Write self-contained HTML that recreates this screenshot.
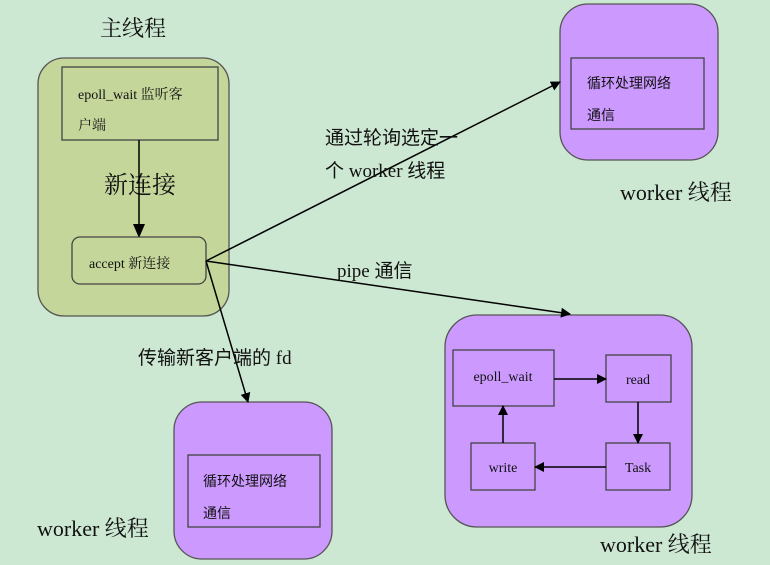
<!DOCTYPE html>
<html><head><meta charset="utf-8"><style>
html,body{margin:0;padding:0;background:#cde8d2;}
svg{display:block;}
text{font-family:"Liberation Serif","Noto Serif CJK SC","Noto Sans CJK SC",serif;fill:#111;}
.s{font-family:"Liberation Serif","Noto Sans CJK SC",sans-serif;}
</style></head><body>
<svg width="770" height="565" viewBox="0 0 770 565" xmlns="http://www.w3.org/2000/svg">
<defs><marker id="a" markerWidth="10" markerHeight="10" refX="9" refY="5" orient="auto" markerUnits="userSpaceOnUse"><path d="M0,0 L10,5 L0,10 z" fill="#000"/></marker>
<marker id="b" markerWidth="14" markerHeight="14" refX="13" refY="7" orient="auto" markerUnits="userSpaceOnUse"><path d="M0,1 L14,7 L0,13 z" fill="#000"/></marker></defs>
<rect width="770" height="565" fill="#cde8d2"/>
<text x="100" y="36" font-size="22">主线程</text>
<rect x="38" y="58" width="191" height="258" rx="26" fill="#c4d69a" stroke="#555" stroke-width="1.3"/>
<rect x="62" y="67" width="156" height="73" fill="#c4d69a" stroke="#444" stroke-width="1.3"/>
<text x="78" y="99" font-size="14">epoll_wait  监听客</text>
<text x="78" y="130" font-size="14">户端</text>
<text x="104" y="193" font-size="24" fill="#333">新连接</text>
<line x1="139" y1="140" x2="139" y2="237" stroke="#000" stroke-width="1.5" marker-end="url(#b)"/>
<rect x="72" y="237" width="134" height="47" rx="8" fill="#c4d69a" stroke="#444" stroke-width="1.3"/>
<text x="89" y="268" font-size="14">accept 新连接</text>

<rect x="560" y="4" width="158" height="156" rx="28" fill="#cc99ff" stroke="#555" stroke-width="1.3"/>
<rect x="571" y="58" width="133" height="71" fill="#cc99ff" stroke="#444" stroke-width="1.3"/>
<text x="587" y="88" font-size="14" class="s">循环处理网络</text>
<text x="587" y="120" font-size="14" class="s">通信</text>
<text x="620" y="200" font-size="22">worker 线程</text>

<rect x="174" y="402" width="158" height="157" rx="28" fill="#cc99ff" stroke="#555" stroke-width="1.3"/>
<rect x="188" y="455" width="132" height="72" fill="#cc99ff" stroke="#444" stroke-width="1.3"/>
<text x="203" y="486" font-size="14" class="s">循环处理网络</text>
<text x="203" y="518" font-size="14" class="s">通信</text>
<text x="37" y="536" font-size="22">worker 线程</text>

<rect x="445" y="315" width="247" height="212" rx="32" fill="#cc99ff" stroke="#555" stroke-width="1.3"/>
<rect x="453" y="350" width="101" height="56" fill="#cc99ff" stroke="#444" stroke-width="1.3"/>
<text x="503" y="381" font-size="14" text-anchor="middle">epoll_wait</text>
<rect x="606" y="355" width="65" height="47" fill="#cc99ff" stroke="#444" stroke-width="1.3"/>
<text x="638" y="384" font-size="14" text-anchor="middle">read</text>
<rect x="471" y="443" width="64" height="47" fill="#cc99ff" stroke="#444" stroke-width="1.3"/>
<text x="503" y="472" font-size="14" text-anchor="middle">write</text>
<rect x="606" y="443" width="64" height="47" fill="#cc99ff" stroke="#444" stroke-width="1.3"/>
<text x="638" y="472" font-size="14" text-anchor="middle">Task</text>
<line x1="554" y1="379" x2="606" y2="379" stroke="#000" stroke-width="1.5" marker-end="url(#a)"/>
<line x1="638" y1="402" x2="638" y2="443" stroke="#000" stroke-width="1.5" marker-end="url(#a)"/>
<line x1="606" y1="467" x2="535" y2="467" stroke="#000" stroke-width="1.5" marker-end="url(#a)"/>
<line x1="503" y1="443" x2="503" y2="406" stroke="#000" stroke-width="1.5" marker-end="url(#a)"/>
<text x="600" y="552" font-size="22">worker 线程</text>

<line x1="206" y1="261" x2="560" y2="82" stroke="#000" stroke-width="1.5" marker-end="url(#a)"/>
<line x1="206" y1="261" x2="570" y2="314" stroke="#000" stroke-width="1.5" marker-end="url(#a)"/>
<line x1="206" y1="261" x2="248" y2="402" stroke="#000" stroke-width="1.5" marker-end="url(#a)"/>
<text x="325" y="144" font-size="19" class="s">通过轮询选定一</text>
<text x="325" y="177" font-size="19" class="s">个 worker 线程</text>
<text x="337" y="277" font-size="19" class="s">pipe 通信</text>
<text x="138" y="364" font-size="19" class="s">传输新客户端的 fd</text>
</svg>
</body></html>
